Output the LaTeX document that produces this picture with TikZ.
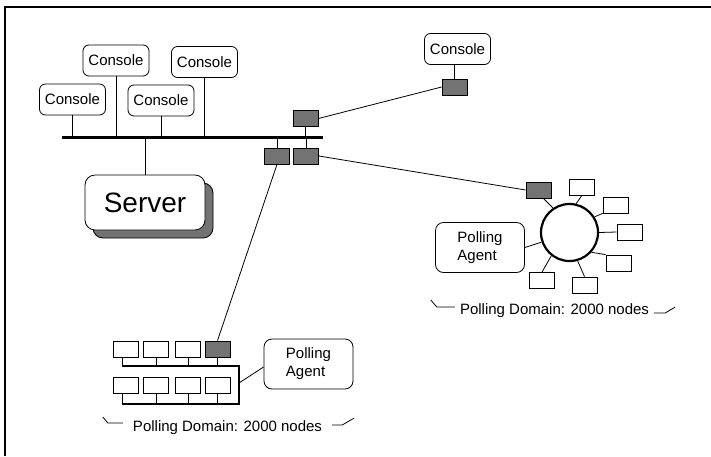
\documentclass[tikz,border=0pt]{standalone}
\usepackage{fontspec}
\setmainfont{Liberation Sans}
\usetikzlibrary{calc,shadows}
\begin{document}
\begin{tikzpicture}[x=1pt,y=-1pt,
  every node/.style={font=\fontsize{15}{18}\selectfont, inner sep=0pt},
  console/.style={draw, line width=0.8pt, rounded corners=6pt, minimum width=66pt, minimum height=31pt},
  router/.style={draw, line width=0.8pt, fill=black!55, minimum width=25pt, minimum height=16pt},
  host/.style={draw, line width=0.8pt, fill=white, minimum width=25pt, minimum height=16pt},
  agent/.style={draw, line width=0.8pt, rounded corners=8pt, minimum width=89pt, minimum height=50pt, align=left},
  server/.style={draw, line width=0.8pt, fill=white, rounded corners=10pt, minimum width=120pt, minimum height=55pt,
    font=\fontsize{28}{30}\selectfont,
    general shadow={shadow xshift=8pt, shadow yshift=-8pt, fill=black!55, draw=black, line width=0.8pt}},
  ringstyle/.style={circle, draw, line width=2.2pt, minimum size=57pt},
  bus/.style={line width=3pt},
  lan/.style={line width=2pt},
  link/.style={line width=0.8pt},
  frame/.style={line width=2.5pt},
  bracket/.style={line width=0.8pt}
]
\useasboundingbox (0,0) rectangle (711,456);
% frame
\coordinate (fA) at (5,456);
\coordinate (fB) at (5,7);
\coordinate (fC) at (711,7);
\draw[frame] (fA) -- (fB) -- (fC);

% main bus
\coordinate (busL) at (62,137);
\coordinate (busR) at (323,137);
\draw[bus] (busL) -- (busR);

% consoles
\node[console] (c1) at (72.5,99.5) {Console};
\node[console] (c2) at (116,60.5) {Console};
\node[console] (c3) at (161,100.5) {Console};
\node[console] (c4) at (204.5,62) {Console};
\foreach \c in {c1,c2,c3,c4}
  \draw[link] (\c.south) -- (\c.south |- busL);

% server
\node[server] (server) at (145,202.5) {Server};
\draw[link] (server.north) -- (server.north |- busL);

% routers on main bus
\node[router] (rA) at (305.5,118.5) {};
\node[router] (rB) at (277,156) {};
\node[router] (rC) at (306,156) {};
\draw[link] (rA.south) -- (rA.south |- busL);
\draw[link] (rB.north) -- (rB.north |- busL);
\draw[link] (rC.north) -- (rC.north |- busL);

% remote console
\node[console] (c5) at (457.5,49) {Console};
\node[router] (rD) at (454.5,87) {};
\draw[link] (rD.north) -- (rD.north |- c5.south);
\draw[link] (rA.east) -- (rD.west);

% ring domain
\node[router] (rE) at (538.5,190) {};
\node[ringstyle] (ring) at (569.5,232.5) {};
\node[host] (h1) at (581.5,187.5) {};
\node[host] (h2) at (615.5,205) {};
\node[host] (h3) at (629.5,232) {};
\node[host] (h4) at (618.5,263) {};
\node[host] (h5) at (584.5,285) {};
\node[host] (h6) at (542,280.5) {};
\draw[link] (rC.east) -- (rE.west);
\draw[link] (rE.-60) -- (ring.124);
\draw[link] (ring.77) -- (h1.south);
\draw[link] (ring.32) -- (h2.south west);
\draw[link] (ring.east) -- (h3.west);
\draw[link] (ring.-42) -- (h4.north west);
\draw[link] (ring.-74) -- (h5.north);
\draw[link] (ring.-128) -- (h6.north);
\node[agent] (agent2) at (480,247.5) {Polling\\Agent};
\draw[link] (agent2.east) -- (ring.199);
\node (dom2) at (554.5,310.5) {Polling Domain: 2000 nodes};
\draw[bracket] ($(dom2.west)+(-29,-10.5)$) -- ($(dom2.west)+(-23,-3.5)$) -- ($(dom2.west)+(-5,-3.5)$);
\draw[bracket] ($(dom2.east)+(5,2.5)$) -- ($(dom2.east)+(16,2.5)$) -- ($(dom2.east)+(26,-3.5)$);

% LAN domain
\coordinate (b1L) at (122,366);
\coordinate (b1R) at (239,366);
\coordinate (b1m) at (239,383);
\coordinate (b2R) at (239,404);
\coordinate (b2L) at (122,404);
\draw[lan] (b1L) -- (b1R) -- (b2R) -- (b2L);
\node[host] (t1) at (125.5,349) {};
\node[host] (t2) at (156,349) {};
\node[host] (t3) at (188,349) {};
\node[router] (g4) at (217.5,349) {};
\node[host] (u1) at (125.5,385) {};
\node[host] (u2) at (156,385) {};
\node[host] (u3) at (188,385) {};
\node[host] (u4) at (217.5,385) {};
\draw[link] (t1.south -| b1L) -- (b1L);
\foreach \n in {t2,t3,g4}
  \draw[link] (\n.south) -- (\n.south |- b1L);
\draw[link] (u1.south -| b2L) -- (b2L);
\foreach \n in {u2,u3,u4}
  \draw[link] (\n.south) -- (\n.south |- b2L);
\draw[link] (rB.south) -- (g4.north);
\node[agent] (agent1) at (308.5,364) {Polling\\Agent};
\draw[link] ($(agent1.west)+(0,3)$) -- (b1m);
\node (dom1) at (227.5,427.5) {Polling Domain: 2000 nodes};
\draw[bracket] ($(dom1.west)+(-30,-10.5)$) -- ($(dom1.west)+(-25,-4.5)$) -- ($(dom1.west)+(-10,-4.5)$);
\draw[bracket] ($(dom1.east)+(10,-2.5)$) -- ($(dom1.east)+(20,-2.5)$) -- ($(dom1.east)+(32,-9.5)$);
\end{tikzpicture}
\end{document}
